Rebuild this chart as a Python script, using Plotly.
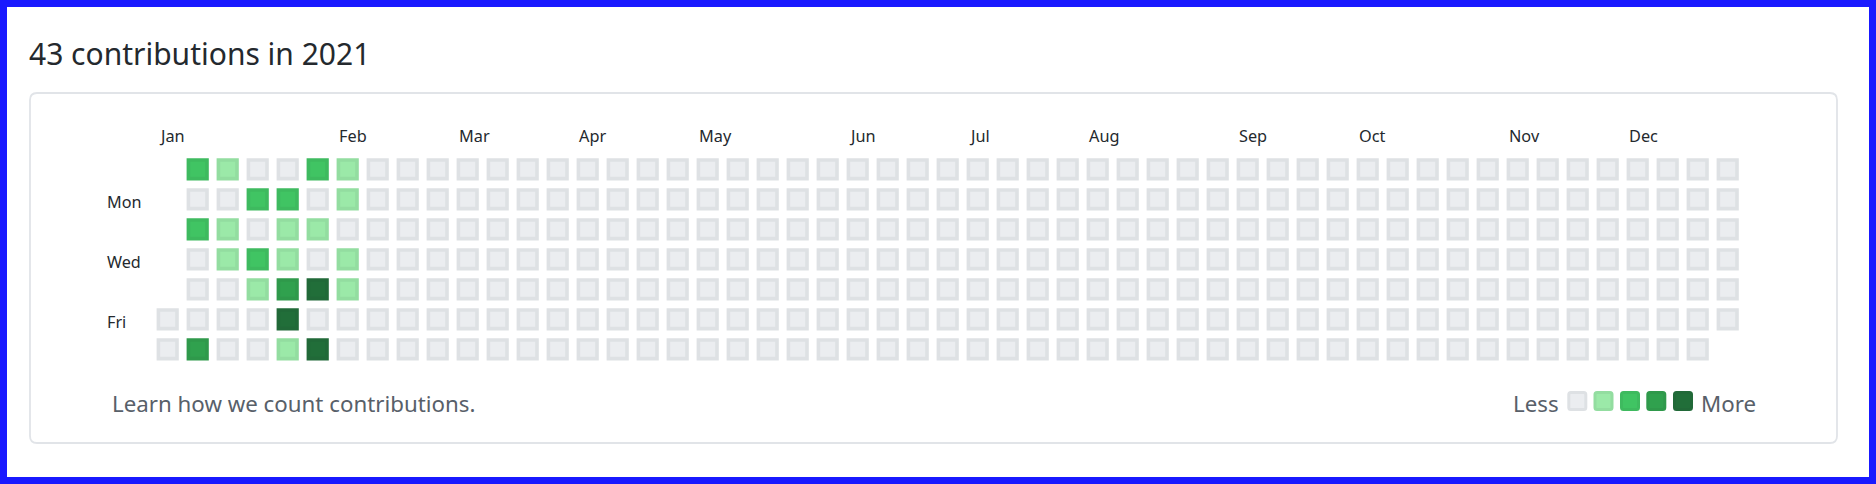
import datetime as dt
import plotly.graph_objects as go

# ---------------- data ----------------
year = 2021
title_text = "43 contributions in 2021"
active_dates = [
    "2021-01-03", "2021-01-05", "2021-01-09",
    "2021-01-10", "2021-01-12", "2021-01-13",
    "2021-01-18", "2021-01-20", "2021-01-21",
    "2021-01-25", "2021-01-26", "2021-01-27", "2021-01-28", "2021-01-29", "2021-01-30",
    "2021-01-31", "2021-02-02", "2021-02-04", "2021-02-06",
    "2021-02-07", "2021-02-08", "2021-02-10", "2021-02-11",
]
active_counts = [
    2, 2, 3,
    1, 1, 1,
    2, 2, 1,
    2, 1, 1, 3, 4, 1,
    2, 1, 5, 4,
    1, 1, 1, 1,
]
month_labels = ["Jan", "Feb", "Mar", "Apr", "May", "Jun",
                "Jul", "Aug", "Sep", "Oct", "Nov", "Dec"]
day_labels = {1: "Mon", 3: "Wed", 5: "Fri"}
level_colors = ["#ebedf0", "#9be9a8", "#40c463", "#30a14e", "#216e39"]
level_rings = ["#dee1e4", "#93dda0", "#3eba5f", "#2f994b", "#216938"]

# ---------------- layout helpers ----------------
W, H, M = 1876, 484, 7
PW, PH = W - 2 * M, H - 2 * M
PITCH = 30.0
COL0_PX, ROW0_PX = 167.7, 169.3


def px_x(px):
    return (px - M) / PW


def px_y(py):
    return 1 - (py - M) / PH


def level_of(c):
    if c <= 0:
        return 0
    return min(c, 4)


counts = dict(zip(active_dates, active_counts))
start = dt.date(year, 1, 1)
offset = (start.weekday() + 1) % 7  # Sunday-based weekday of Jan 1
xs, ys, fills, rings, texts = [], [], [], [], []
week_first_month = {}
d = start
while d.year == year:
    i = (d - start).days + offset
    col, row = i // 7, i % 7
    week_first_month.setdefault(col, d.month)
    c = counts.get(d.isoformat(), 0)
    lv = level_of(c)
    xs.append(col)
    ys.append(row)
    fills.append(level_colors[lv])
    rings.append(level_rings[lv])
    texts.append(f"{c} contribution{'s' if c != 1 else ''} on {d.strftime('%b %d, %Y')}")
    d += dt.timedelta(days=1)

fig = go.Figure()
fig.add_trace(go.Scatter(
    x=xs, y=ys, mode="markers",
    marker=dict(symbol="square", size=18.6, color=fills,
                line=dict(color=rings, width=3.6)),
    text=texts, hoverinfo="text", showlegend=False,
))

x0 = COL0_PX - M
xa = -(x0 / PITCH)
xb = xa + PW / PITCH
y0 = ROW0_PX - M
ya = -(y0 / PITCH)
yb = ya + PH / PITCH

FONT = "Noto Sans, Open Sans, sans-serif"
ann = []
# Month label on the first week whose first day falls in that month
prev = None
for col in sorted(week_first_month):
    m = week_first_month[col]
    if m != prev:
        ann.append(dict(x=col - 0.367, y=px_y(136), xref="x", yref="paper",
                        text=month_labels[m - 1], showarrow=False,
                        xanchor="left", yanchor="middle",
                        font=dict(family=FONT, size=16.3, color="#24292e")))
        prev = m
for r, name in day_labels.items():
    ann.append(dict(x=px_x(105), y=r + 0.08, xref="paper", yref="y",
                    text=name, showarrow=False, xanchor="left", yanchor="middle",
                    font=dict(family=FONT, size=16.2, color="#24292e")))
ann.append(dict(x=px_x(27), y=px_y(54), xref="paper", yref="paper",
                text=title_text, showarrow=False, xanchor="left", yanchor="middle",
                font=dict(family=FONT, size=30, color="#24292e")))
ann.append(dict(x=px_x(110), y=px_y(403), xref="paper", yref="paper",
                text="Learn how we count contributions.", showarrow=False,
                xanchor="left", yanchor="middle",
                font=dict(family=FONT, size=22.3, color="#586069")))
ann.append(dict(x=px_x(1561), y=px_y(403), xref="paper", yref="paper",
                text="Less", showarrow=False, xanchor="right", yanchor="middle",
                font=dict(family=FONT, size=22.3, color="#586069")))
ann.append(dict(x=px_x(1699), y=px_y(403), xref="paper", yref="paper",
                text="More", showarrow=False, xanchor="left", yanchor="middle",
                font=dict(family=FONT, size=22.3, color="#586069")))


def rrect(xl, yt, xr, ybm, r):
    a, b = px_x(xl), px_x(xr)
    t, bt = px_y(yt), px_y(ybm)
    rx, ry = r / PW, r / PH
    return (f"M {a+rx},{t} L {b-rx},{t} Q {b},{t} {b},{t-ry} "
            f"L {b},{bt+ry} Q {b},{bt} {b-rx},{bt} L {a+rx},{bt} "
            f"Q {a},{bt} {a},{bt+ry} L {a},{t-ry} Q {a},{t} {a+rx},{t} Z")


shapes = [dict(type="path", xref="paper", yref="paper",
               path=rrect(30, 93, 1837, 443, 7),
               line=dict(color="#e1e4e8", width=1.8), fillcolor="rgba(0,0,0,0)",
               layer="below")]
leg_centers = [1577.3, 1603.5, 1630, 1656.3, 1683]
for k, cx in enumerate(leg_centers):
    s = 8.5
    shapes.append(dict(type="path", xref="paper", yref="paper",
                       path=rrect(cx - s, 401 - s, cx + s, 401 + s, 2),
                       line=dict(color=level_rings[k], width=3),
                       fillcolor=level_colors[k]))

fig.update_layout(
    width=W, height=H,
    margin=dict(l=M, r=M, t=M, b=M),
    paper_bgcolor="#1919ff", plot_bgcolor="#ffffff",
    xaxis=dict(range=[xa, xb], visible=False, fixedrange=True),
    yaxis=dict(range=[yb, ya], visible=False, fixedrange=True),
    annotations=ann, shapes=shapes,
    hovermode="closest",
)
fig.write_html(
    "out.html",
    config={"displayModeBar": False},
    post_script="document.body.style.margin='0';document.body.style.overflow='hidden';",
)
